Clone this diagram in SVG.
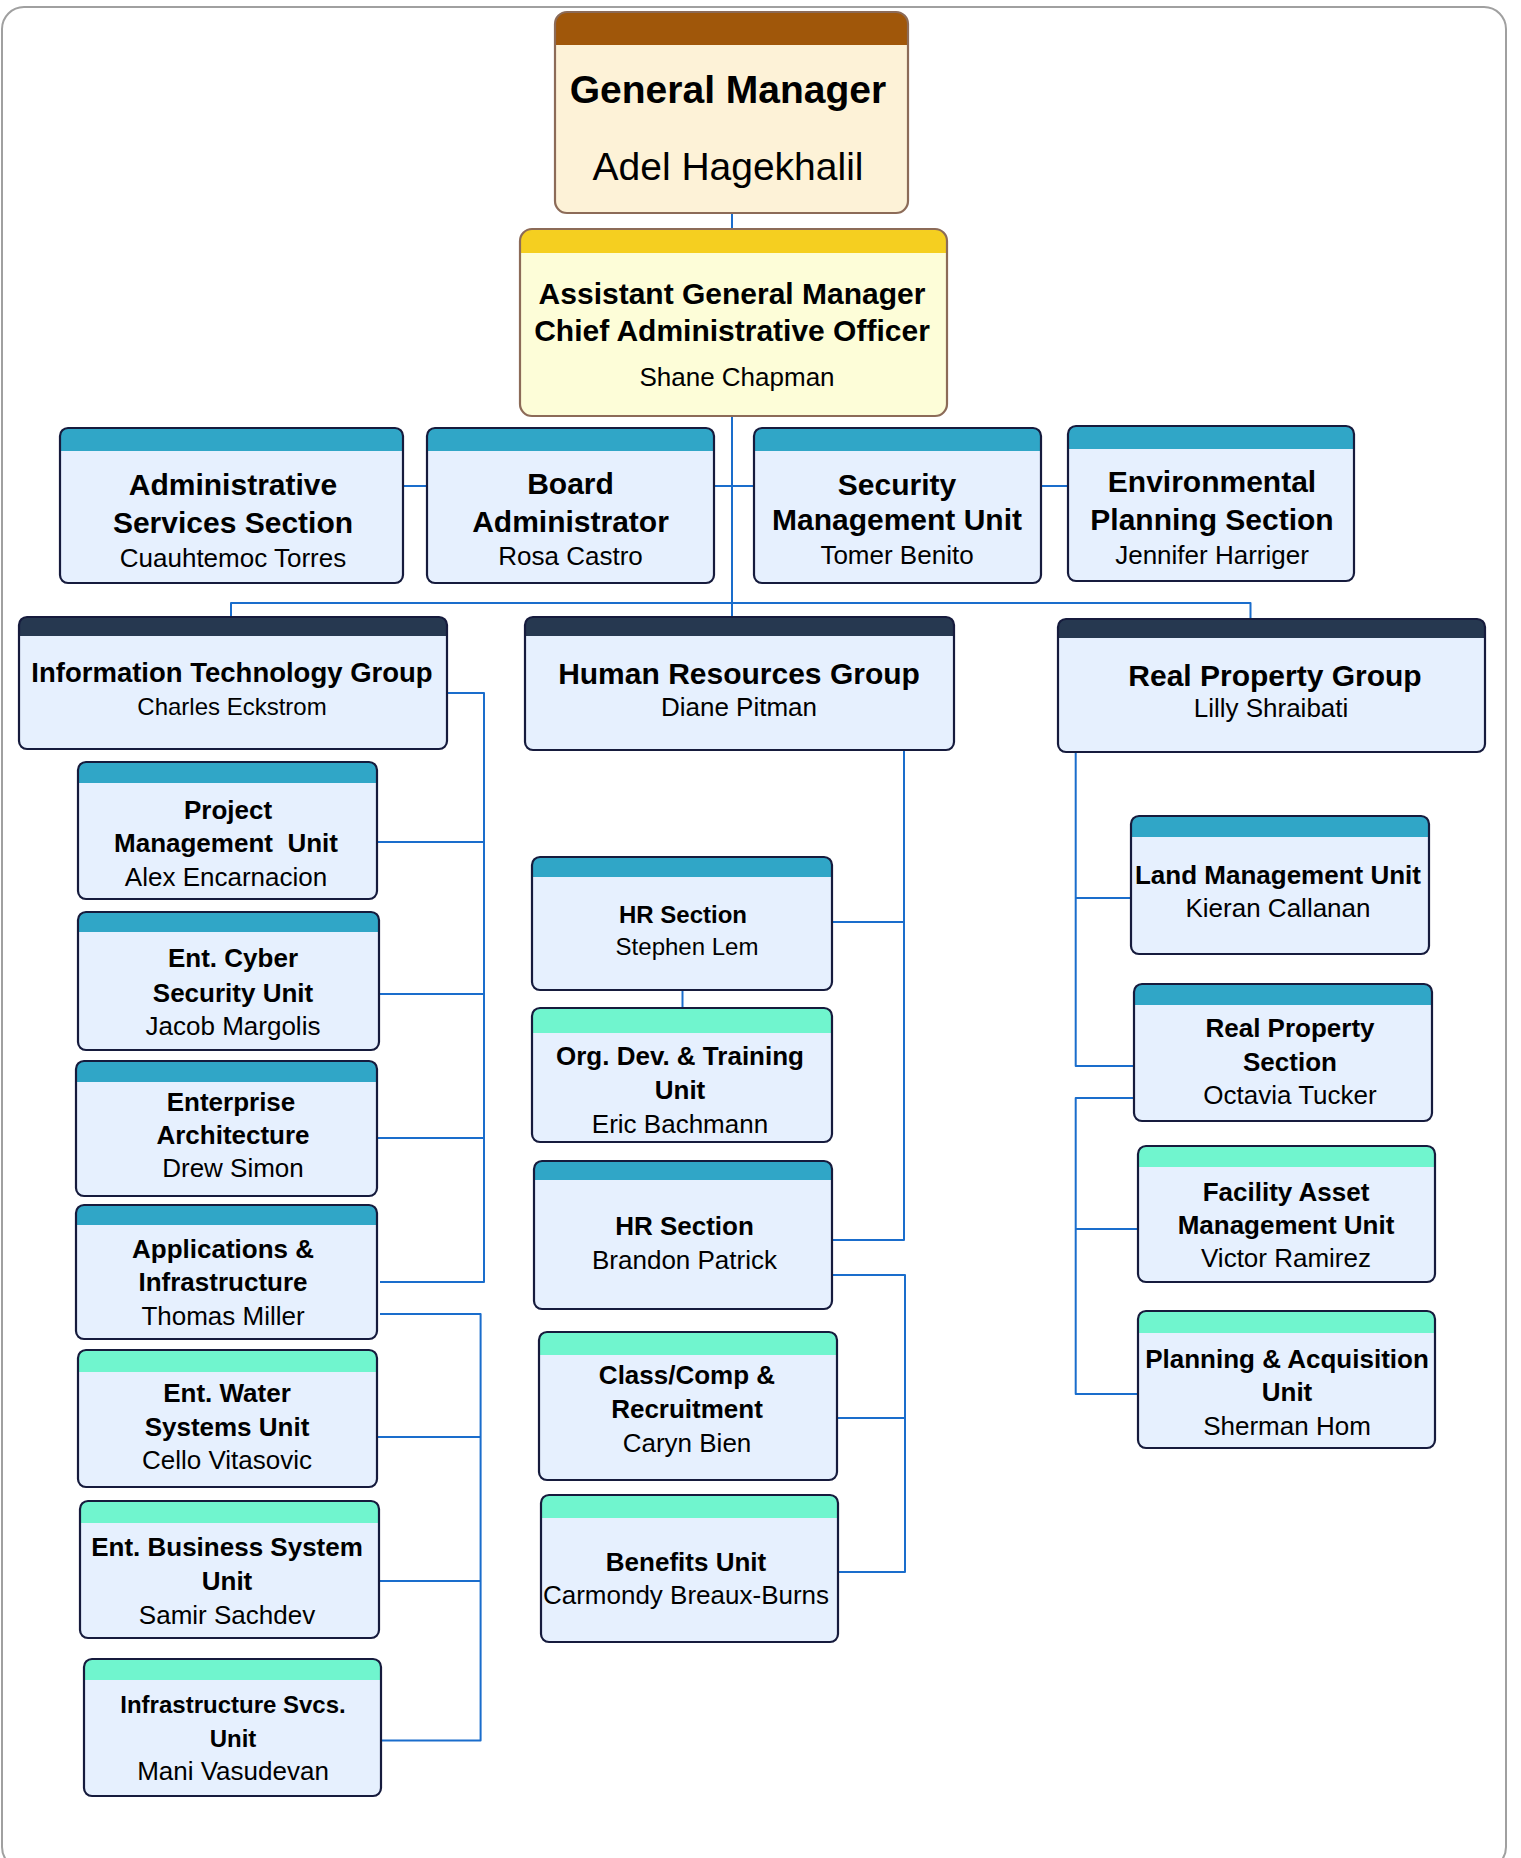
<svg xmlns="http://www.w3.org/2000/svg" width="1521" height="1858" viewBox="0 0 1521 1858">
<style>
text{font-family:"Liberation Sans",Arial,sans-serif;text-anchor:middle;fill:#000}
.b{font-weight:bold}
.s39{font-size:39px}.s30{font-size:30px}.s28{font-size:27.5px}.s26{font-size:26px}.s24{font-size:24px}
.body{fill:#E6F0FE}
.ol{fill:none;stroke:#161B3D;stroke-width:2.2}
.teal{fill:#30A6C7}.mint{fill:#70F5CE}.navy{fill:#263850}
.gmb{fill:#FDF2D7}.agmb{fill:#FDFDD8}.brown{fill:#A0570A}.yel{fill:#F5CF20}
.olb{fill:none;stroke:#8C6B58;stroke-width:2.2}
.conn path{fill:none;stroke:#1A6DCC;stroke-width:2;stroke-linejoin:round}
</style>
<rect x="2" y="7" width="1504" height="1862" rx="22" fill="#fff" stroke="#A0A0A0" stroke-width="2"/>

<g id="connectors" class="conn">
<path d="M732,213 V603"/>
<path d="M403,486 H1068"/>
<path d="M231,618 V603 H1250.5 V619"/>
<path d="M732,603 V617"/>
<path d="M447,693 H484 V1282 H380"/>
<path d="M377,842 H484"/>
<path d="M379,994 H484"/>
<path d="M377,1138 H484"/>
<path d="M380,1314 H480.6 V1740.6 H381"/>
<path d="M377,1437 H480.6"/>
<path d="M379,1581 H480.6"/>
<path d="M904,750 V1240 H832"/>
<path d="M832,922 H904"/>
<path d="M682.5,990 V1008"/>
<path d="M832,1275 H905 V1572 H838"/>
<path d="M837,1418 H905"/>
<path d="M1075.7,752 V1066 H1134"/>
<path d="M1075.7,898 H1131"/>
<path d="M1134,1098 H1075.7 V1394 H1138"/>
<path d="M1075.7,1229 H1138"/>
</g>

<g id="general-manager">
<rect class="gmb" x="555" y="12" width="353" height="201" rx="12"/>
<path class="brown" d="M555,45 V24 A12,12 0 0 1 567,12 H896 A12,12 0 0 1 908,24 V45 Z"/>
<rect class="olb" x="555" y="12" width="353" height="201" rx="12"/>
<text class="b s39" x="728" y="103">General Manager</text>
<text class="s39" x="728" y="180">Adel Hagekhalil</text>
</g>

<g id="assistant-general-manager">
<rect class="agmb" x="520" y="229" width="427" height="187" rx="12"/>
<path class="yel" d="M520,253 V241 A12,12 0 0 1 532,229 H935 A12,12 0 0 1 947,241 V253 Z"/>
<rect class="olb" x="520" y="229" width="427" height="187" rx="12"/>
<text class="b s30" x="732" y="304">Assistant General Manager</text>
<text class="b s30" x="732" y="341">Chief Administrative Officer</text>
<text class="s26" x="737" y="386">Shane Chapman</text>
</g>

<g id="administrative-services">
<rect class="body" x="60" y="428" width="343" height="155" rx="8"/>
<path class="teal" d="M60,451 V436 A8,8 0 0 1 68,428 H395 A8,8 0 0 1 403,436 V451 Z"/>
<rect class="ol" x="60" y="428" width="343" height="155" rx="8"/>
<text class="b s30" x="233" y="495">Administrative</text>
<text class="b s30" x="233" y="533">Services Section</text>
<text class="s26" x="233" y="567">Cuauhtemoc Torres</text>
</g>

<g id="board-administrator">
<rect class="body" x="427" y="428" width="287" height="155" rx="8"/>
<path class="teal" d="M427,451 V436 A8,8 0 0 1 435,428 H706 A8,8 0 0 1 714,436 V451 Z"/>
<rect class="ol" x="427" y="428" width="287" height="155" rx="8"/>
<text class="b s30" x="570.5" y="494">Board</text>
<text class="b s30" x="570.5" y="532">Administrator</text>
<text class="s26" x="570.5" y="565">Rosa Castro</text>
</g>

<g id="security-management">
<rect class="body" x="754" y="428" width="287" height="155" rx="8"/>
<path class="teal" d="M754,451 V436 A8,8 0 0 1 762,428 H1033 A8,8 0 0 1 1041,436 V451 Z"/>
<rect class="ol" x="754" y="428" width="287" height="155" rx="8"/>
<text class="b s30" x="897" y="495">Security</text>
<text class="b s30" x="897" y="530">Management Unit</text>
<text class="s26" x="897" y="564">Tomer Benito</text>
</g>

<g id="environmental-planning">
<rect class="body" x="1068" y="426" width="286" height="155" rx="8"/>
<path class="teal" d="M1068,449 V434 A8,8 0 0 1 1076,426 H1346 A8,8 0 0 1 1354,434 V449 Z"/>
<rect class="ol" x="1068" y="426" width="286" height="155" rx="8"/>
<text class="b s30" x="1212" y="492">Environmental</text>
<text class="b s30" x="1212" y="530">Planning Section</text>
<text class="s26" x="1212" y="564">Jennifer Harriger</text>
</g>

<g id="it-group">
<rect class="body" x="19" y="617" width="428" height="132" rx="8"/>
<path class="navy" d="M19,636 V625 A8,8 0 0 1 27,617 H439 A8,8 0 0 1 447,625 V636 Z"/>
<rect class="ol" x="19" y="617" width="428" height="132" rx="8"/>
<text class="b s28" x="232" y="682">Information Technology Group</text>
<text class="s24" x="232" y="715">Charles Eckstrom</text>
</g>

<g id="hr-group">
<rect class="body" x="525" y="617" width="429" height="133" rx="8"/>
<path class="navy" d="M525,636 V625 A8,8 0 0 1 533,617 H946 A8,8 0 0 1 954,625 V636 Z"/>
<rect class="ol" x="525" y="617" width="429" height="133" rx="8"/>
<text class="b s30" x="739" y="684">Human Resources Group</text>
<text class="s26" x="739" y="716">Diane Pitman</text>
</g>

<g id="rp-group">
<rect class="body" x="1058" y="619" width="427" height="133" rx="8"/>
<path class="navy" d="M1058,638 V627 A8,8 0 0 1 1066,619 H1477 A8,8 0 0 1 1485,627 V638 Z"/>
<rect class="ol" x="1058" y="619" width="427" height="133" rx="8"/>
<text class="b s30" x="1275" y="686">Real Property Group</text>
<text class="s26" x="1271" y="717">Lilly Shraibati</text>
</g>

<g id="project-management">
<rect class="body" x="78" y="762" width="299" height="137" rx="8"/>
<path class="teal" d="M78,783 V770 A8,8 0 0 1 86,762 H369 A8,8 0 0 1 377,770 V783 Z"/>
<rect class="ol" x="78" y="762" width="299" height="137" rx="8"/>
<text class="b s26" x="228" y="819">Project</text>
<text class="b s26" x="226" y="852" xml:space="preserve">Management  Unit</text>
<text class="s26" x="226" y="886">Alex Encarnacion</text>
</g>

<g id="ent-cyber-security">
<rect class="body" x="78" y="912" width="301" height="138" rx="8"/>
<path class="teal" d="M78,932 V920 A8,8 0 0 1 86,912 H371 A8,8 0 0 1 379,920 V932 Z"/>
<rect class="ol" x="78" y="912" width="301" height="138" rx="8"/>
<text class="b s26" x="233" y="967">Ent. Cyber</text>
<text class="b s26" x="233" y="1002">Security Unit</text>
<text class="s26" x="233" y="1035">Jacob Margolis</text>
</g>

<g id="enterprise-architecture">
<rect class="body" x="76" y="1061" width="301" height="135" rx="8"/>
<path class="teal" d="M76,1082 V1069 A8,8 0 0 1 84,1061 H369 A8,8 0 0 1 377,1069 V1082 Z"/>
<rect class="ol" x="76" y="1061" width="301" height="135" rx="8"/>
<text class="b s26" x="231" y="1111">Enterprise</text>
<text class="b s26" x="233" y="1144">Architecture</text>
<text class="s26" x="233" y="1177">Drew Simon</text>
</g>

<g id="applications-infrastructure">
<rect class="body" x="76" y="1205" width="301" height="134" rx="8"/>
<path class="teal" d="M76,1225 V1213 A8,8 0 0 1 84,1205 H369 A8,8 0 0 1 377,1213 V1225 Z"/>
<rect class="ol" x="76" y="1205" width="301" height="134" rx="8"/>
<text class="b s26" x="223" y="1258">Applications &amp;</text>
<text class="b s26" x="223" y="1291">Infrastructure</text>
<text class="s26" x="223" y="1325">Thomas Miller</text>
</g>

<g id="ent-water-systems">
<rect class="body" x="78" y="1350" width="299" height="137" rx="8"/>
<path class="mint" d="M78,1372 V1358 A8,8 0 0 1 86,1350 H369 A8,8 0 0 1 377,1358 V1372 Z"/>
<rect class="ol" x="78" y="1350" width="299" height="137" rx="8"/>
<text class="b s26" x="227" y="1402">Ent. Water</text>
<text class="b s26" x="227" y="1436">Systems Unit</text>
<text class="s26" x="227" y="1469">Cello Vitasovic</text>
</g>

<g id="ent-business-system">
<rect class="body" x="80" y="1501" width="299" height="137" rx="8"/>
<path class="mint" d="M80,1523 V1509 A8,8 0 0 1 88,1501 H371 A8,8 0 0 1 379,1509 V1523 Z"/>
<rect class="ol" x="80" y="1501" width="299" height="137" rx="8"/>
<text class="b s26" x="227" y="1556">Ent. Business System</text>
<text class="b s26" x="227" y="1590">Unit</text>
<text class="s26" x="227" y="1624">Samir Sachdev</text>
</g>

<g id="infrastructure-svcs">
<rect class="body" x="84" y="1659" width="297" height="137" rx="8"/>
<path class="mint" d="M84,1680 V1667 A8,8 0 0 1 92,1659 H373 A8,8 0 0 1 381,1667 V1680 Z"/>
<rect class="ol" x="84" y="1659" width="297" height="137" rx="8"/>
<text class="b s24" x="233" y="1713">Infrastructure Svcs.</text>
<text class="b s24" x="233" y="1747">Unit</text>
<text class="s26" x="233" y="1780">Mani Vasudevan</text>
</g>

<g id="hr-section-lem">
<rect class="body" x="532" y="857" width="300" height="133" rx="8"/>
<path class="teal" d="M532,877 V865 A8,8 0 0 1 540,857 H824 A8,8 0 0 1 832,865 V877 Z"/>
<rect class="ol" x="532" y="857" width="300" height="133" rx="8"/>
<text class="b s24" x="683" y="923">HR Section</text>
<text class="s24" x="687" y="955">Stephen Lem</text>
</g>

<g id="org-dev-training">
<rect class="body" x="532" y="1008" width="300" height="134" rx="8"/>
<path class="mint" d="M532,1033 V1016 A8,8 0 0 1 540,1008 H824 A8,8 0 0 1 832,1016 V1033 Z"/>
<rect class="ol" x="532" y="1008" width="300" height="134" rx="8"/>
<text class="b s26" x="680" y="1065">Org. Dev. &amp; Training</text>
<text class="b s26" x="680" y="1099">Unit</text>
<text class="s26" x="680" y="1133">Eric Bachmann</text>
</g>

<g id="hr-section-patrick">
<rect class="body" x="534" y="1161" width="298" height="148" rx="8"/>
<path class="teal" d="M534,1180 V1169 A8,8 0 0 1 542,1161 H824 A8,8 0 0 1 832,1169 V1180 Z"/>
<rect class="ol" x="534" y="1161" width="298" height="148" rx="8"/>
<text class="b s26" x="684.5" y="1235">HR Section</text>
<text class="s26" x="684.5" y="1269">Brandon Patrick</text>
</g>

<g id="class-comp-recruitment">
<rect class="body" x="539" y="1332" width="298" height="148" rx="8"/>
<path class="mint" d="M539,1355 V1340 A8,8 0 0 1 547,1332 H829 A8,8 0 0 1 837,1340 V1355 Z"/>
<rect class="ol" x="539" y="1332" width="298" height="148" rx="8"/>
<text class="b s26" x="687" y="1384">Class/Comp &amp;</text>
<text class="b s26" x="687" y="1418">Recruitment</text>
<text class="s26" x="687" y="1452">Caryn Bien</text>
</g>

<g id="benefits-unit">
<rect class="body" x="541" y="1495" width="297" height="147" rx="8"/>
<path class="mint" d="M541,1518 V1503 A8,8 0 0 1 549,1495 H830 A8,8 0 0 1 838,1503 V1518 Z"/>
<rect class="ol" x="541" y="1495" width="297" height="147" rx="8"/>
<text class="b s26" x="686" y="1571">Benefits Unit</text>
<text class="s26" x="686" y="1604">Carmondy Breaux-Burns</text>
</g>

<g id="land-management">
<rect class="body" x="1131" y="816" width="298" height="138" rx="8"/>
<path class="teal" d="M1131,837 V824 A8,8 0 0 1 1139,816 H1421 A8,8 0 0 1 1429,824 V837 Z"/>
<rect class="ol" x="1131" y="816" width="298" height="138" rx="8"/>
<text class="b s26" x="1278" y="884">Land Management Unit</text>
<text class="s26" x="1278" y="917">Kieran Callanan</text>
</g>

<g id="real-property-section">
<rect class="body" x="1134" y="984" width="298" height="137" rx="8"/>
<path class="teal" d="M1134,1005 V992 A8,8 0 0 1 1142,984 H1424 A8,8 0 0 1 1432,992 V1005 Z"/>
<rect class="ol" x="1134" y="984" width="298" height="137" rx="8"/>
<text class="b s26" x="1290" y="1037">Real Property</text>
<text class="b s26" x="1290" y="1071">Section</text>
<text class="s26" x="1290" y="1104">Octavia Tucker</text>
</g>

<g id="facility-asset-management">
<rect class="body" x="1138" y="1146" width="297" height="136" rx="8"/>
<path class="mint" d="M1138,1167 V1154 A8,8 0 0 1 1146,1146 H1427 A8,8 0 0 1 1435,1154 V1167 Z"/>
<rect class="ol" x="1138" y="1146" width="297" height="136" rx="8"/>
<text class="b s26" x="1286" y="1201">Facility Asset</text>
<text class="b s26" x="1286" y="1234">Management Unit</text>
<text class="s26" x="1286" y="1267">Victor Ramirez</text>
</g>

<g id="planning-acquisition">
<rect class="body" x="1138" y="1311" width="297" height="137" rx="8"/>
<path class="mint" d="M1138,1333 V1319 A8,8 0 0 1 1146,1311 H1427 A8,8 0 0 1 1435,1319 V1333 Z"/>
<rect class="ol" x="1138" y="1311" width="297" height="137" rx="8"/>
<text class="b s26" x="1287" y="1368">Planning &amp; Acquisition</text>
<text class="b s26" x="1287" y="1401">Unit</text>
<text class="s26" x="1287" y="1435">Sherman Hom</text>
</g>
</svg>
